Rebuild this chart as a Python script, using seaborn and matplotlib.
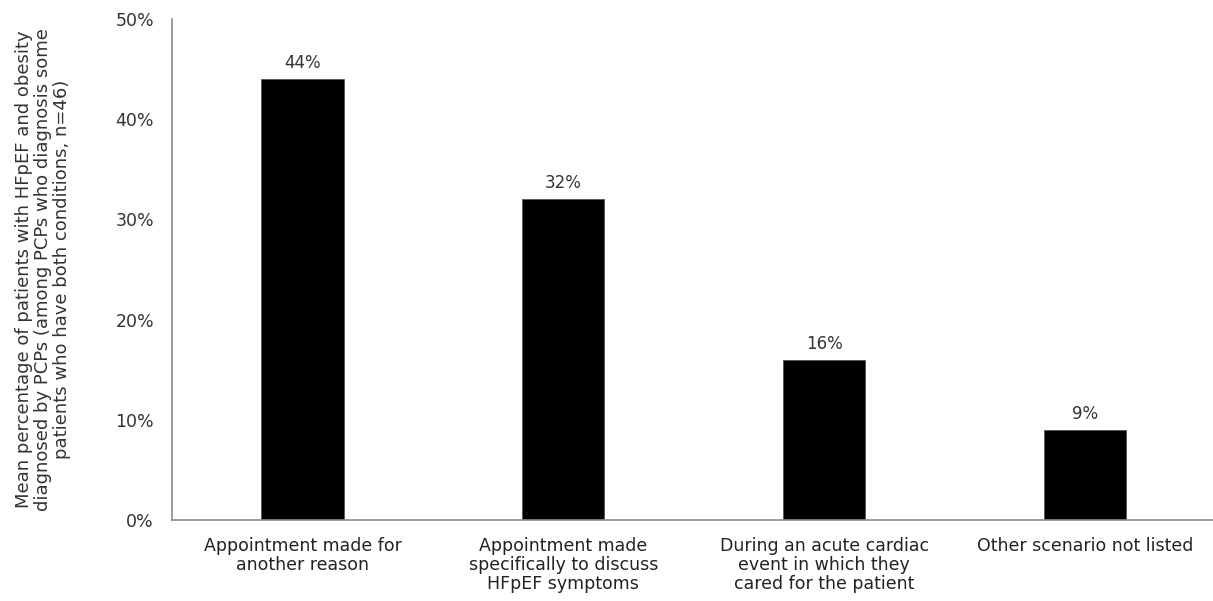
import matplotlib
matplotlib.use("Agg")
import matplotlib.pyplot as plt
import seaborn as sns
import pandas as pd

categories = [
    "Appointment made for\nanother reason",
    "Appointment made\nspecifically to discuss\nHFpEF symptoms",
    "During an acute cardiac\nevent in which they\ncared for the patient",
    "Other scenario not listed",
]
values = [44, 32, 16, 9]
y_ticks = [0, 10, 20, 30, 40, 50]
y_label = ("Mean percentage of patients with HFpEF and obesity\n"
           "diagnosed by PCPs (among PCPs who diagnosis some\n"
           "patients who have both conditions, n=46)")

sns.set_theme(style="white")
plt.rcParams["font.family"] = ["DejaVu Sans"]

df = pd.DataFrame({"scenario": categories, "pct": values})

fig = plt.figure(figsize=(12.13, 6.01), dpi=100)
ax = fig.add_axes([0.1418, 0.1348, 0.8582, 0.8336])

sns.barplot(data=df, x="scenario", y="pct", color="black", width=0.315,
            saturation=1, ax=ax, edgecolor="#555555", linewidth=0.6)

ax.set_ylim(0, 50)
ax.set_xlim(-0.5, 3.49)
ax.set_yticks(y_ticks)
ax.set_yticklabels([f"{t}%" for t in y_ticks], fontsize=12.5, color="#333333")
ax.tick_params(axis="y", length=0, pad=13)
ax.tick_params(axis="x", length=0, pad=12)
for lab in ax.get_xticklabels():
    lab.set_fontsize(12.5)
    lab.set_color("#222222")
    lab.set_linespacing(1.1)

for bar, v in zip(ax.patches, values):
    ax.annotate(f"{v}%", (bar.get_x() + bar.get_width() / 2, v),
                xytext=(0, 5), textcoords="offset points",
                ha="center", va="bottom", fontsize=12, color="#333333")

ax.set_xlabel("")
ax.set_ylabel(y_label, fontsize=13, color="#333333", labelpad=32,
              linespacing=1.08, ha="center")

for side in ["top", "right"]:
    ax.spines[side].set_visible(False)
for side in ["left", "bottom"]:
    ax.spines[side].set_color("#8c8c8c")
    ax.spines[side].set_linewidth(1.2)

fig.savefig("out.png", dpi=100, facecolor="white")
